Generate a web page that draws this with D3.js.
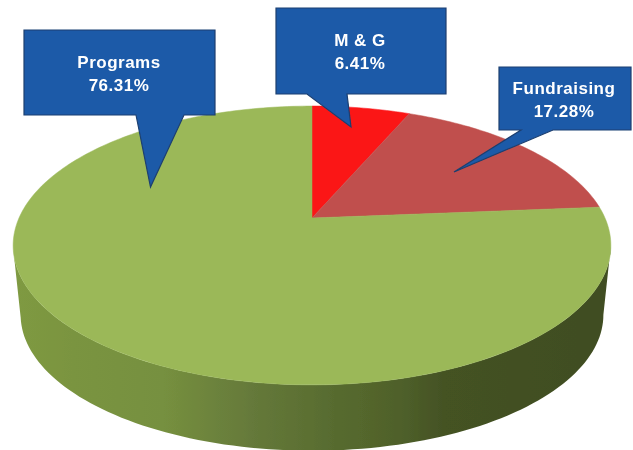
<!DOCTYPE html>
<html><head><meta charset="utf-8">
<script src="https://cdn.jsdelivr.net/npm/d3@7/dist/d3.min.js"></script>
<style>html,body{margin:0;padding:0;background:#fff}svg{display:block}</style>
</head><body><svg id="c" width="633" height="450"></svg>
<script>
const categories = ["M & G", "Fundraising", "Programs"];
const values = [6.41, 17.28, 76.31];
const labels = ["6.41%", "17.28%", "76.31%"];

const colors = ["#fb1518", "#c0504d", "#9bb859"];
const wallStops = [[0,"#7f9a42"],[0.1,"#7a9440"],[0.25,"#76903f"],[0.4,"#65793a"],[0.55,"#566a2e"],[0.65,"#4f602a"],[0.72,"#445224"],[1,"#404d20"]];
const callouts = [
  {box:[276,8,446,94], base:[307,347], tip:[351,127], text:[360,46]},
  {box:[499,67,631,130], base:[521,553], tip:[454,172], text:[564,94]},
  {box:[24,30,215,115], base:[136,184], tip:[150.5,187], text:[119,68]}
];

const svg = d3.select("#c");
const defs = svg.append("defs");
defs.append("filter").attr("id","soft").attr("x","-5%").attr("y","-5%").attr("width","110%").attr("height","110%")
  .append("feGaussianBlur").attr("stdDeviation",0.7);
defs.append("filter").attr("id","softText").attr("x","-5%").attr("y","-5%").attr("width","110%").attr("height","110%")
  .append("feGaussianBlur").attr("stdDeviation",0.45);
const grad = defs.append("linearGradient").attr("id","wall").attr("gradientUnits","userSpaceOnUse")
  .attr("x1",13).attr("x2",611).attr("y1",0).attr("y2",0);
grad.selectAll("stop").data(wallStops).join("stop").attr("offset",d=>d[0]).attr("stop-color",d=>d[1]);

// perspective projection of the pie's disc
const persp = -0.197;
function project(angle, r, scale, cy) {
  const u = Math.sin(angle)*r, v = -Math.cos(angle)*r, w = 1 + persp*v;
  return [312 + scale*293*u/w, cy + scale*134*v/w];
}
const topFace = (a,r=1) => project(a,r,1,218);
const bottomFace = a => project(a,1,0.975,288);
const line = d3.line();

const pie = d3.pie().sort(null).value(d=>d)(values);
const g = svg.append("g").attr("filter","url(#soft)");

// side wall, between the silhouette tangents of the two faces
const wallAngles = d3.range(101.4,258.7,1.5).map(d=>d*Math.PI/180);
g.append("path")
  .attr("d", line(wallAngles.map(a=>topFace(a)).concat(wallAngles.slice().reverse().map(bottomFace))) + "Z")
  .attr("fill","url(#wall)");

// top face
g.selectAll("path.slice").data(pie).join("path").attr("class","slice")
  .attr("d", d=>{
    const n = Math.ceil((d.endAngle-d.startAngle)/0.02);
    const arc = d3.range(n+1).map(i=>topFace(d.startAngle+(d.endAngle-d.startAngle)*i/n));
    return line([topFace(0,0),...arc]) + "Z";
  })
  .attr("fill",(d,i)=>colors[i])
  .attr("stroke",(d,i)=>colors[i]).attr("stroke-width",0.5);

// callouts
const cg = svg.append("g").attr("filter","url(#soft)");
const co = cg.selectAll("g").data(callouts).join("g");
co.append("path").attr("d",d=>{
    const [x0,y0,x1,y1]=d.box;
    return line([[x0,y0],[x1,y0],[x1,y1],[d.base[1],y1],d.tip,[d.base[0],y1],[x0,y1]])+"Z";
  })
  .attr("fill","#1e5aa8").attr("stroke","#1b3f70").attr("stroke-width",1.2).attr("stroke-linejoin","miter");
const tg = svg.append("g").attr("filter","url(#softText)");
const tx = tg.selectAll("text").data(callouts).join("text").attr("text-anchor","middle")
  .attr("font-family","Liberation Sans, Arial, sans-serif").attr("font-weight","bold")
  .attr("font-size",17).attr("letter-spacing",0.5).attr("fill","#ffffff");
tx.append("tspan").attr("x",d=>d.text[0]).attr("y",d=>d.text[1]).text((d,i)=>categories[i]);
tx.append("tspan").attr("x",d=>d.text[0]).attr("y",d=>d.text[1]+23).text((d,i)=>labels[i]);
</script></body></html>
